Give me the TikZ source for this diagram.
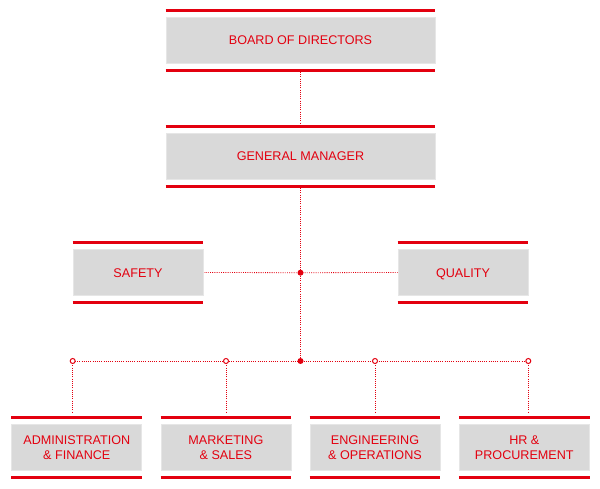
\documentclass[tikz,border=0pt]{standalone}
\usepackage{fontspec}
\setmainfont{Liberation Sans}
\usetikzlibrary{backgrounds}
\definecolor{orgred}{HTML}{E3000F}
\definecolor{boxgray}{HTML}{D9D9D9}
\definecolor{boxedge}{HTML}{E6E6E6}
\tikzset{
  orgbox/.style={fill=boxgray, draw=boxedge, line width=0.8pt, text=orgred,
    minimum width=#1, minimum height=46pt, inner sep=0pt, align=center,
    font=\fontsize{12.6}{15}\selectfont},
  orgbox/.default=130pt,
  oneline/.style={text height=9pt, text depth=0pt},
  bar/.style={draw=orgred, line width=3.6pt},
  link/.style={draw=orgred, line width=0.8pt, dash pattern=on 0.9pt off 1.3pt},
  joint/.style={circle, fill=orgred, inner sep=0pt, minimum size=6pt},
  endpt/.style={circle, draw=orgred, fill=white, line width=1pt, inner sep=0pt, minimum size=5pt}
}
\begin{document}
\begin{tikzpicture}[x=1pt, y=-1pt]
\useasboundingbox (0,0) rectangle (600,489);
% boxes
\node[orgbox=269pt, oneline] (bd) at (300.5,40.5) {BOARD OF DIRECTORS};
\node[orgbox=269pt, oneline] (gm) at (300.5,156.5) {GENERAL MANAGER};
\node[orgbox, oneline] (sf) at (138,272.5) {SAFETY};
\node[orgbox, oneline] (ql) at (463,272.5) {QUALITY};
\node[orgbox] (ad) at (76.8,447.5) {ADMINISTRATION\\\& FINANCE};
\node[orgbox] (mk) at (225.9,447.5) {MARKETING\\\& SALES};
\node[orgbox] (en) at (375,447.5) {ENGINEERING\\\& OPERATIONS};
\node[orgbox] (hr) at (524.3,447.5) {HR \&\\PROCUREMENT};
% bars
\foreach \n in {bd,gm,sf,ql,ad,mk,en,hr}{
  \draw[bar] ([yshift=6.5pt]\n.north west) -- ([yshift=6.5pt]\n.north east);
  \draw[bar] ([yshift=-6.5pt]\n.south west) -- ([yshift=-6.5pt]\n.south east);
}
% junctions
\node[joint] (j1) at (300.5,272.7) {};
\node[joint] (j2) at (300.5,361) {};
\node[endpt] (e1) at (72.7,361) {};
\node[endpt] (e2) at (226,361) {};
\node[endpt] (e3) at (375,361) {};
\node[endpt] (e4) at (528.3,361) {};
\coordinate (t1) at (72.7,412);
\coordinate (t2) at (226,412);
\coordinate (t3) at (375,412);
\coordinate (t4) at (528.3,412);
\coordinate (bdb) at (300.5,72);
\coordinate (gmt) at (300.5,125);
\coordinate (gmb) at (300.5,188);
\begin{scope}[on background layer]
\draw[link] (bdb) -- (gmt);
\draw[link] (gmb) -- (j1.center) -- (j2.center);
\draw[link] (sf.east) -- (j1.center) -- (ql.west);
\draw[link] (e1.center) -- (e4.center);
\draw[link] (e1.center) -- (t1);
\draw[link] (e2.center) -- (t2);
\draw[link] (e3.center) -- (t3);
\draw[link] (e4.center) -- (t4);
\end{scope}
\end{tikzpicture}
\end{document}
